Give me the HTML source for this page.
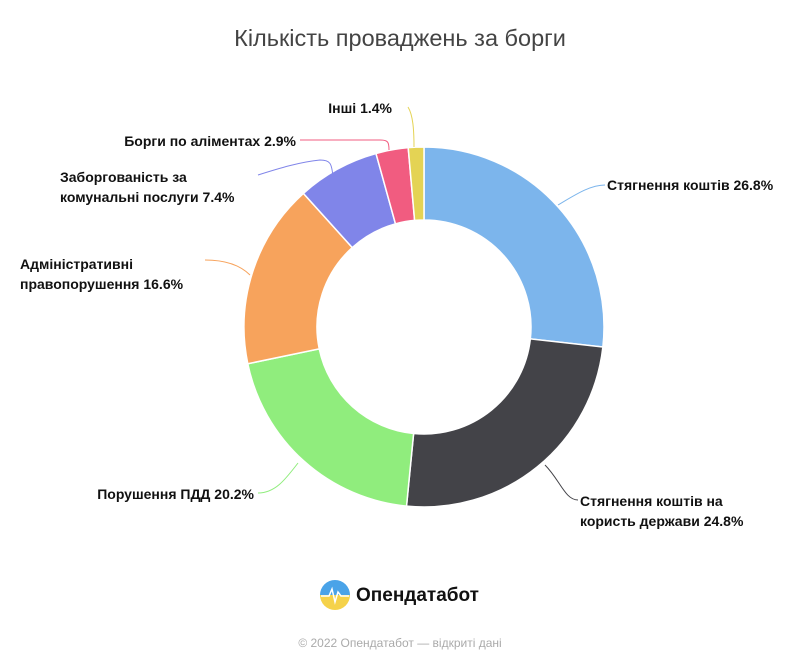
<!DOCTYPE html>
<html><head><meta charset="utf-8"><style>
body{margin:0;background:#fff;width:800px;height:667px;overflow:hidden;font-family:"Liberation Sans","DejaVu Sans",sans-serif}
svg text{font-family:"Liberation Sans","DejaVu Sans",sans-serif}
.l{font-size:14px;font-weight:bold;fill:#111}
</style></head><body>
<svg id="s" width="800" height="667" viewBox="0 0 800 667">
<text x="400" y="46" text-anchor="middle" font-size="23.5" fill="#444">Кількість проваджень за борги</text>
<g id="pie"></g>
<g fill="none" stroke-width="1">
<path d="M558,205 C575,195 590,185 605,185" stroke="#7cb5ec"/>
<path d="M545,465 C560,480 565,500 578,500" stroke="#434348"/>
<path d="M298,463 C285,480 275,493 258,493" stroke="#90ed7d"/>
<path d="M250,275 C240,265 225,260 205,260" stroke="#f7a35c"/>
<path d="M333,178 C332,163 330,160 320,160 C300,162 280,168 258,175" stroke="#8085e9"/>
<path d="M389,150 C389,142 388,140 380,140 L300,140" stroke="#f15c80"/>
<path d="M414,147 C414,130 413,115 408,107" stroke="#e4d354"/>
</g>
<text class="l" x="607" y="190">Стягнення коштів 26.8%</text>
<text class="l" x="580" y="506">Стягнення коштів на</text>
<text class="l" x="580" y="526">користь держави 24.8%</text>
<text class="l" x="254" y="499" text-anchor="end">Порушення ПДД 20.2%</text>
<text class="l" x="20" y="269">Адміністративні</text>
<text class="l" x="20" y="289">правопорушення 16.6%</text>
<text class="l" x="60" y="182">Заборгованість за</text>
<text class="l" x="60" y="202">комунальні послуги 7.4%</text>
<text class="l" x="296" y="146" text-anchor="end">Борги по аліментах 2.9%</text>
<text class="l" x="392" y="113" text-anchor="end">Інші 1.4%</text>
<g transform="translate(320,580)">
<defs><linearGradient id="g" x1="0" y1="0" x2="0" y2="1"><stop offset="0.5" stop-color="#4aa3e8"/><stop offset="0.5" stop-color="#f5d24a"/></linearGradient></defs>
<circle cx="15" cy="15" r="15" fill="url(#g)"/>
<path d="M1,16 L9,16 L12,9 L15,22 L18,12 L21,16 L29,16" stroke="#fff" stroke-width="1.5" fill="none"/>
</g>
<text x="356" y="601" font-size="19" font-weight="bold" fill="#111">Опендатабот</text>
<text x="400" y="647" text-anchor="middle" font-size="12" fill="#aaa">© 2022 Опендатабот — відкриті дані</text>
</svg>
<script>
var d=[[26.8,"#7cb5ec"],[24.8,"#434348"],[20.2,"#90ed7d"],[16.6,"#f7a35c"],[7.4,"#8085e9"],[2.9,"#f15c80"],[1.4,"#e4d354"]];
var t=0;d.forEach(function(x){t+=x[0]});
var cx=424,cy=327,R=180,r=107,a=0,h="";
function p(rad,ang){return (cx+rad*Math.sin(ang)).toFixed(2)+","+(cy-rad*Math.cos(ang)).toFixed(2)}
d.forEach(function(x){var s=a,e=a+x[0]/t*2*Math.PI;a=e;var L=(e-s)>Math.PI?1:0;
h+='<path d="M'+p(R,s)+' A'+R+','+R+' 0 '+L+' 1 '+p(R,e)+' L'+p(r,e)+' A'+r+','+r+' 0 '+L+' 0 '+p(r,s)+' Z" fill="'+x[1]+'" stroke="#fff" stroke-width="1.5"/>';});
document.getElementById("pie").innerHTML=h;
</script>
</body></html>
